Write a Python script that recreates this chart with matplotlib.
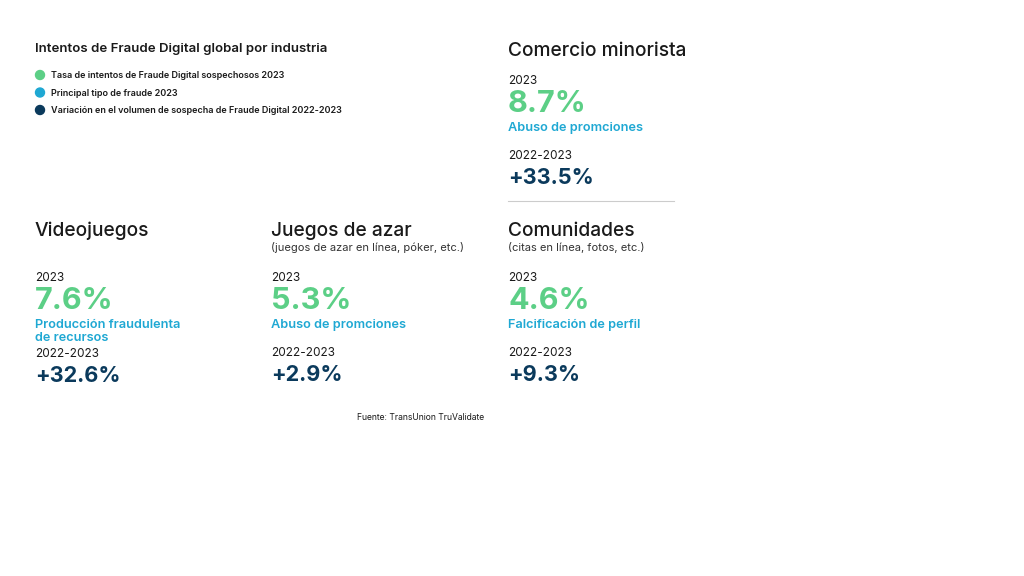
import matplotlib.pyplot as plt
from matplotlib.lines import Line2D
from matplotlib.patches import Circle

plt.rcParams['font.family'] = ['Inter', 'DejaVu Sans']

GREEN = '#5CCF86'
BLUE = '#1FA8D3'
NAVY = '#0B3A5C'
DARK = '#1a1a1a'

titulo = 'Intentos de Fraude Digital global por industria'
leyenda = ['Tasa de intentos de Fraude Digital sospechosos 2023',
           'Principal tipo de fraude 2023',
           'Variación en el volumen de sospecha de Fraude Digital 2022-2023']
leyenda_col = [GREEN, BLUE, NAVY]

industrias = ['Comercio minorista', 'Videojuegos', 'Juegos de azar', 'Comunidades']
subtitulos = ['', '', '(juegos de azar en línea, póker, etc.)', '(citas en línea, fotos, etc.)']
tasa_2023 = [8.7, 7.6, 5.3, 4.6]
tipo_fraude = ['Abuso de promciones', 'Producción fraudulenta\nde recursos',
               'Abuso de promciones', 'Falcificación de perfil']
variacion = [33.5, 32.6, 2.9, 9.3]
fuente = 'Fuente: TransUnion TruValidate'

W, H = 1024, 576
fig = plt.figure(figsize=(W / 100, H / 100), dpi=100)
fig.patch.set_facecolor('white')


def txt(x, y, s, **kw):
    # pixel coords, y from top
    fig.text(x / W, 1 - y / H, s, va='baseline', ha='left', **kw)


txt(35, 52, titulo, fontsize=9.5, fontweight='semibold', color=DARK)
for i, (lab, c) in enumerate(zip(leyenda, leyenda_col)):
    y = 75 + i * 17.5
    fig.patches.append(Circle((40 / 100, (H - y) / 100), 4.5 / 100,
                              transform=fig.dpi_scale_trans, color=c))
    txt(51, y + 3, lab, fontsize=6.5, fontweight='semibold', color=DARK)

# panel anchors: x, baseline of header
paneles = [(508, 56), (35, 236), (271, 236), (508, 236)]

for k, (x, y0) in enumerate(paneles):
    txt(x, y0, industrias[k], fontsize=13.8, fontweight='medium', color=DARK)
    if k == 0:
        yb = y0 + 28
    else:
        if subtitulos[k]:
            txt(x, y0 + 15, subtitulos[k], fontsize=8, color='#333333')
        yb = y0 + 45
    txt(x, yb, '2023', fontsize=8.5, color=DARK)
    txt(x, yb + 28, f'{tasa_2023[k]:.1f}%', fontsize=22, fontweight='bold', color=GREEN)
    lineas = tipo_fraude[k].split('\n')
    for j, l in enumerate(lineas):
        txt(x, yb + 47 + j * 13, l, fontsize=9.2, fontweight='semibold', color=BLUE)
    yv = yb + 75 if len(lineas) == 1 else yb + 76
    txt(x, yv, '2022-2023', fontsize=8.5, color=DARK)
    txt(x, yv + 25, f'+{variacion[k]:.1f}%', fontsize=15.6, fontweight='bold', color=NAVY)

fig.lines.append(Line2D([508 / W, 674 / W], [1 - 201 / H, 1 - 201 / H],
                        transform=fig.transFigure, color='#cccccc', lw=0.8))

txt(357, 420, fuente, fontsize=6.2, color=DARK)

fig.savefig('out.png', dpi=100, facecolor='white')
